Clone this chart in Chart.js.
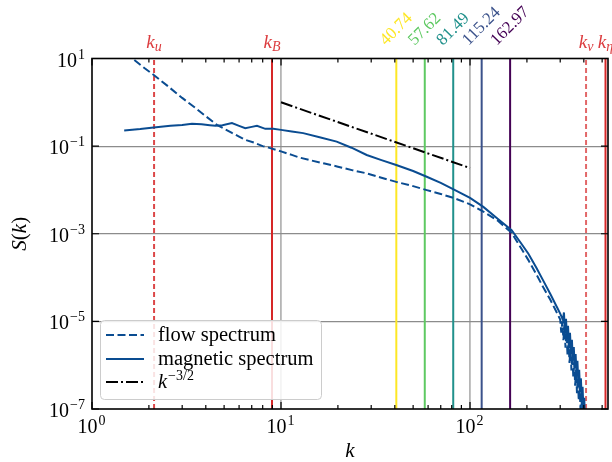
<!DOCTYPE html>
<html><head><meta charset="utf-8">
<script src="https://cdn.jsdelivr.net/npm/chart.js@4/dist/chart.umd.min.js"></script>
<style>html,body{margin:0;padding:0;background:#fff}</style>
</head><body>
<canvas id="c" width="612" height="462"></canvas>
<script>
// ---------- data ----------
const K_FLOW = [1.5, 1.66, 1.9, 2.13, 2.5, 3.0, 3.5, 4.0, 4.58, 5.0, 5.5, 6.0, 6.47, 7.2, 8.0, 8.6, 10, 11.4, 12.5, 14.2, 17, 20, 24, 28.4, 34, 40.7, 50, 59, 70, 83.3, 100, 117.6, 140, 166, 185, 203.6, 224, 244, 266, 287.6, 300, 304, 308, 312, 316, 320, 324, 328, 332, 336, 340, 344, 348, 352, 356, 360, 364, 368, 372, 376, 380, 384, 388, 392, 396, 400, 404];
const FLOW = [13.4, 9.5, 6.0, 4.16, 2.4, 1.26, 0.76, 0.48, 0.306, 0.25, 0.2, 0.165, 0.139, 0.12, 0.1, 0.0925, 0.076, 0.063, 0.055, 0.048, 0.040, 0.034, 0.028, 0.0239, 0.019, 0.0153, 0.0122, 0.0099, 0.0081, 0.0064, 0.0047, 0.0032, 0.002, 0.00105, 0.00049, 0.00025, 0.00012, 0.00006, 0.000031, 0.000016, 0.000011, 0.0000055, 0.0000100, 0.0000037, 0.0000083, 0.0000025, 0.0000056, 0.00000166, 0.0000038, 0.00000112, 0.0000025, 0.00000076, 0.0000017, 0.00000051, 0.00000115, 0.00000034, 0.00000078, 0.00000023, 0.00000051, 0.000000155, 0.00000035, 0.0000001, 0.00000023, 0.00000007, 0.000000155, 0.000000053, 0.00000011];
const K_MAG = [1.48, 1.8, 2.12, 2.6, 3.0, 3.38, 3.8, 4.2, 4.5, 4.9, 5.5, 6.0, 6.47, 7.0, 7.46, 8.26, 9.1, 10, 11.4, 13.1, 16, 19.7, 23.6, 28.4, 34, 40.7, 50, 59, 70, 83.3, 100, 117.6, 140, 166, 185, 203.6, 224, 244, 266, 287.6, 300, 310, 314, 318, 322, 326, 330, 334, 338, 342, 346, 350, 354, 358, 362, 366, 370, 374, 378, 382, 386, 390, 394, 398, 402, 406];
const MAG = [0.227, 0.245, 0.266, 0.29, 0.305, 0.323, 0.315, 0.30, 0.29, 0.30, 0.335, 0.29, 0.257, 0.275, 0.29, 0.248, 0.248, 0.235, 0.215, 0.198, 0.16, 0.127, 0.092, 0.0628, 0.048, 0.037, 0.027, 0.020, 0.0145, 0.0099, 0.0066, 0.0041, 0.0022, 0.00121, 0.00063, 0.00035, 0.00017, 0.000085, 0.000042, 0.0000215, 0.000015, 0.0000108, 0.000016, 0.0000054, 0.0000115, 0.0000038, 0.0000079, 0.0000026, 0.0000055, 0.0000018, 0.0000038, 0.00000126, 0.0000026, 0.00000087, 0.0000018, 0.0000006, 0.00000126, 0.0000004, 0.00000079, 0.00000025, 0.0000005, 0.00000016, 0.00000032, 0.0000001, 0.00000018, 0.00000005];
const K_REF = [10, 100];
const REF = [1.0, 0.0316];
const SCALE_NAMES = ['u', 'B', 'ν', 'η'];
const SCALE_K = [2.13, 8.96, 411, 521];
const MODE_K = [40.74, 57.62, 81.49, 115.24, 162.97];
const MODE_LABELS = ['40.74', '57.62', '81.49', '115.24', '162.97'];
const X_TICKS = [1, 10, 100];
const Y_TICKS = [1e-7, 1e-5, 1e-3, 1e-1, 10];
const SERIES_NAMES = ['flow spectrum', 'magnetic spectrum'];

// ---------- styles ----------
const FONT = '"Liberation Serif", "DejaVu Serif", serif';
const BLUE = '#0a4c91';
const RED = '#d62728';
const MODE_COLORS = ['#fde725', '#5ec962', '#21918c', '#3b528b', '#440154'];
const SCALE_STYLE = [
  {c: 'rgba(214,39,40,0.85)', dash: [5, 3]},
  {c: RED, dash: []},
  {c: 'rgba(214,39,40,0.7)', dash: [5, 3]},
  {c: RED, dash: []}
];
const X_MIN = 1, X_MAX = 537, Y_MIN = 1e-7, Y_MAX = 10;

function pts(xs, ys) { return xs.map((x, i) => ({x: x, y: ys[i]})); }

function drawRuns(ctx, parts, x, y, align) {
  let w = 0;
  parts.forEach(p => {
    ctx.font = (p.italic ? 'italic ' : '') + p.size + 'px ' + FONT;
    p.w = ctx.measureText(p.t).width + (p.gap || 0) + (p.pre || 0);
    w += p.w;
  });
  let sx = align === 'center' ? x - w / 2 : (align === 'right' ? x - w : x);
  ctx.textAlign = 'left';
  ctx.textBaseline = 'alphabetic';
  parts.forEach(p => {
    ctx.font = (p.italic ? 'italic ' : '') + p.size + 'px ' + FONT;
    ctx.fillText(p.t, sx + (p.pre || 0), y + (p.dy || 0));
    sx += p.w;
  });
  return w;
}
function powParts(v) {
  const e = Math.round(Math.log10(v));
  const s = e < 0 ? '−' + (-e) : String(e);
  return [{t: '10', size: 20}, {t: s, size: 14, dy: -8, pre: 1, gap: 1}];
}

const datasets = [];
datasets.push({label: SERIES_NAMES[0], data: pts(K_FLOW, FLOW), borderColor: BLUE, borderWidth: 2, borderDash: [8, 3.5], order: 0});
datasets.push({label: SERIES_NAMES[1], data: pts(K_MAG, MAG), borderColor: BLUE, borderWidth: 2, order: 0});
datasets.push({label: 'ref', data: pts(K_REF, REF), borderColor: '#000', borderWidth: 2, borderDash: [12, 3, 2, 3], order: 1});
MODE_K.forEach((k, i) => datasets.push({label: MODE_LABELS[i], data: [{x: k, y: Y_MIN}, {x: k, y: Y_MAX}], borderColor: MODE_COLORS[i], borderWidth: 2, order: 2}));
SCALE_K.forEach((k, i) => datasets.push({label: 'k_' + SCALE_NAMES[i], data: [{x: k, y: Y_MIN}, {x: k, y: Y_MAX}], borderColor: SCALE_STYLE[i].c, borderDash: SCALE_STYLE[i].dash, borderWidth: 2, order: 2}));

const decor = {
  id: 'decor',
  afterDatasetsDraw(chart) {
    const ctx = chart.ctx, a = chart.chartArea;
    const xs = chart.scales.x, ys = chart.scales.y;
    ctx.save();
    ctx.strokeStyle = '#000';
    ctx.lineWidth = 1.2;
    ctx.beginPath();
    for (let d = 1; d <= 1000; d *= 10) {
      for (let m = 1; m <= 9; m++) {
        const v = d * m;
        if (v < X_MIN || v > X_MAX) continue;
        const px = xs.getPixelForValue(v);
        const L = m === 1 ? 7 : 4;
        ctx.moveTo(px, a.bottom); ctx.lineTo(px, a.bottom - L);
        ctx.moveTo(px, a.top); ctx.lineTo(px, a.top + L);
      }
    }
    Y_TICKS.forEach(v => {
      const py = ys.getPixelForValue(v);
      ctx.moveTo(a.left, py); ctx.lineTo(a.left + 7, py);
      ctx.moveTo(a.right, py); ctx.lineTo(a.right - 7, py);
    });
    ctx.stroke();
    ctx.lineWidth = 1.6;
    ctx.strokeRect(a.left, a.top, a.right - a.left, a.bottom - a.top);
    ctx.restore();
  },
  afterDraw(chart) {
    const ctx = chart.ctx, a = chart.chartArea;
    const xs = chart.scales.x, ys = chart.scales.y;
    ctx.save();
    ctx.fillStyle = '#000';
    X_TICKS.forEach(v => drawRuns(ctx, powParts(v), xs.getPixelForValue(v), 433, 'center'));
    Y_TICKS.forEach(v => drawRuns(ctx, powParts(v), 86, ys.getPixelForValue(v) + 8, 'right'));
    drawRuns(ctx, [{t: 'k', size: 21, italic: true}], (a.left + a.right) / 2, 457, 'center');
    ctx.save();
    ctx.translate(26, (a.top + a.bottom) / 2);
    ctx.rotate(-Math.PI / 2);
    drawRuns(ctx, [{t: 'S', size: 21, italic: true}, {t: '(', size: 21}, {t: 'k', size: 21, italic: true}, {t: ')', size: 21}], 0, 0, 'center');
    ctx.restore();
    ctx.fillStyle = '#dc3c3f';
    SCALE_K.forEach((k, i) => {
      drawRuns(ctx, [{t: 'k', size: 19, italic: true}, {t: SCALE_NAMES[i], size: 14, italic: true, dy: 3}], xs.getPixelForValue(k), 48, 'center');
    });
    MODE_K.forEach((k, i) => {
      ctx.font = '17px ' + FONT;
      const w = ctx.measureText(MODE_LABELS[i]).width;
      const h = 12;
      const cx = xs.getPixelForValue(k);
      const cy = 47 - (w + h) / (2 * Math.SQRT2);
      ctx.save();
      ctx.translate(cx, cy);
      ctx.rotate(-Math.PI / 4);
      ctx.fillStyle = MODE_COLORS[i];
      ctx.textAlign = 'center';
      ctx.textBaseline = 'middle';
      ctx.fillText(MODE_LABELS[i], 0, 0);
      ctx.restore();
    });
    // legend
    const lx = 100.5, ly = 320.5, lw = 221, lh = 79, r = 4;
    ctx.beginPath();
    ctx.moveTo(lx + r, ly);
    ctx.arcTo(lx + lw, ly, lx + lw, ly + lh, r);
    ctx.arcTo(lx + lw, ly + lh, lx, ly + lh, r);
    ctx.arcTo(lx, ly + lh, lx, ly, r);
    ctx.arcTo(lx, ly, lx + lw, ly, r);
    ctx.closePath();
    ctx.fillStyle = 'rgba(255,255,255,0.85)';
    ctx.fill();
    ctx.strokeStyle = '#cccccc';
    ctx.lineWidth = 1;
    ctx.stroke();
    const rows = [335, 359, 382];
    const styles = [{c: BLUE, d: [8, 3.5]}, {c: BLUE, d: []}, {c: '#000', d: [12, 3, 2, 3]}];
    rows.forEach((yy, i) => {
      ctx.beginPath();
      ctx.setLineDash(styles[i].d);
      ctx.strokeStyle = styles[i].c;
      ctx.lineWidth = 2;
      ctx.moveTo(106, yy); ctx.lineTo(144, yy);
      ctx.stroke();
    });
    ctx.setLineDash([]);
    ctx.fillStyle = '#000';
    drawRuns(ctx, [{t: SERIES_NAMES[0], size: 20.5}], 158, rows[0] + 6, 'left');
    drawRuns(ctx, [{t: SERIES_NAMES[1], size: 20.5}], 158, rows[1] + 6, 'left');
    drawRuns(ctx, [{t: 'k', size: 20.5, italic: true}, {t: '−3/2', size: 14, dy: -8, pre: 1}], 158, rows[2] + 6, 'left');
    ctx.restore();
  }
};

new Chart(document.getElementById('c'), {
  type: 'line',
  data: {datasets: datasets},
  options: {
    responsive: false,
    animation: false,
    devicePixelRatio: 1,
    elements: {point: {radius: 0}, line: {tension: 0, fill: false}},
    layout: {padding: {left: 92, top: 58.5, right: 4, bottom: 53}},
    plugins: {legend: {display: false}, tooltip: {enabled: false}},
    scales: {
      x: {
        type: 'logarithmic', min: X_MIN, max: X_MAX,
        afterBuildTicks: s => { s.ticks = X_TICKS.map(v => ({value: v})); },
        ticks: {display: false},
        border: {display: false},
        grid: {drawTicks: false, lineWidth: 1.8,
          color: c => (c.tick && (c.tick.value === 10 || c.tick.value === 100)) ? '#b5b5b5' : 'rgba(0,0,0,0)'}
      },
      y: {
        type: 'logarithmic', min: Y_MIN, max: Y_MAX,
        afterBuildTicks: s => { s.ticks = Y_TICKS.map(v => ({value: v})); },
        ticks: {display: false},
        border: {display: false},
        grid: {drawTicks: false, lineWidth: 1.2,
          color: c => {
            if (!c.tick) return 'rgba(0,0,0,0)';
            const e = Math.log10(c.tick.value);
            return (Math.abs(e + 1) < 1e-6 || Math.abs(e + 3) < 1e-6 || Math.abs(e + 5) < 1e-6) ? '#8c8c8c' : 'rgba(0,0,0,0)';
          }}
      }
    }
  },
  plugins: [decor]
});
</script>
</body></html>
